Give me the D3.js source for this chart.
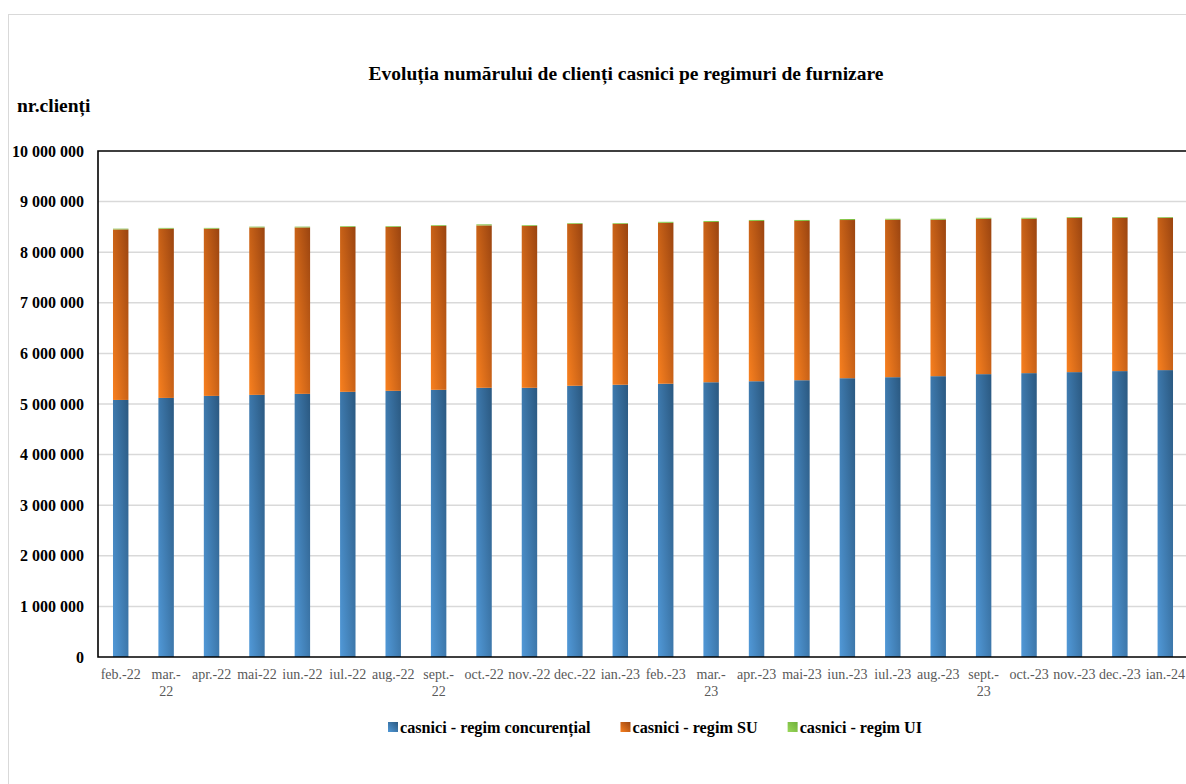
<!DOCTYPE html>
<html>
<head>
<meta charset="utf-8">
<script src="https://cdn.jsdelivr.net/npm/d3@7"></script>
<style>
  html, body { margin: 0; padding: 0; background: #fff; }
  svg { display: block; }
</style>
</head>
<body>
<svg id="chart" width="1186" height="784"></svg>
<script>
const categories = ["feb.-22","mar.-\n22","apr.-22","mai-22","iun.-22","iul.-22","aug.-22","sept.-\n22","oct.-22","nov.-22","dec.-22","ian.-23",
                    "feb.-23","mar.-\n23","apr.-23","mai-23","iun.-23","iul.-23","aug.-23","sept.-\n23","oct.-23","nov.-23","dec.-23","ian.-24"];
const concurential = [5080000,5120000,5160000,5180000,5200000,5240000,5260000,5280000,5320000,5320000,5360000,5380000,
                      5400000,5430000,5450000,5470000,5510000,5530000,5550000,5590000,5610000,5630000,5650000,5670000];
const regimSU = [3370000,3345000,3305000,3310000,3290000,3260000,3240000,3240000,3210000,3200000,3200000,3180000,
                 3180000,3167000,3167000,3147000,3126000,3110000,3090000,3070000,3050000,3050000,3030000,3010000];
const regimUI = [15000,15000,15000,15000,15000,15000,15000,15000,20000,15000,15000,15000,
                 20000,20000,20000,20000,20000,20000,20000,20000,20000,15000,15000,15000];
const yTicks = [0,1000000,2000000,3000000,4000000,5000000,6000000,7000000,8000000,9000000,10000000];
const seriesNames = ["casnici - regim concurențial","casnici - regim SU","casnici - regim UI"];
const titleText = "Evoluția numărului de clienți casnici pe regimuri de furnizare";
const yTitle = "nr.clienți";

const svg = d3.select("#chart");
const serif = "'Liberation Serif','Times New Roman',serif";

// outer chart border
svg.append("rect").attr("x", 8.5).attr("y", 14.5).attr("width", 1200).attr("height", 800)
  .attr("fill", "#fff").attr("stroke", "#d9d9d9").attr("stroke-width", 1);

// gradients
const defs = svg.append("defs");
const grads = [
  {id: "g0", light: "#5199d8", dark: "#2a5880"},
  {id: "g1", light: "#f8801f", dark: "#9a4410"},
  {id: "g2", light: "#9ad85a", dark: "#6fb03a"}
];
grads.forEach(g => {
  const lgr = defs.append("linearGradient").attr("id", g.id)
    .attr("x1", 0).attr("y1", 1).attr("x2", 1).attr("y2", 0);
  lgr.append("stop").attr("offset", "0%").attr("stop-color", g.light);
  lgr.append("stop").attr("offset", "100%").attr("stop-color", g.dark);
});

const pLeft = 98, pRight = 1188, pTop = 151, pBottom = 657;
const x = d3.scaleBand().domain(categories).range([pLeft, pRight]).paddingInner(0.66).paddingOuter(0.33);
const y = d3.scaleLinear().domain([0, 10000000]).range([pBottom, pTop]);

// gridlines
svg.append("g").selectAll("line").data(yTicks.filter(t => t > 0 && t < 10000000)).join("line")
  .attr("x1", pLeft).attr("x2", pRight).attr("y1", d => y(d)).attr("y2", d => y(d))
  .attr("stroke", "#d9d9d9").attr("stroke-width", 1.5);

// stacked data
const data = categories.map((c, i) => ({cat: c, a: concurential[i], b: regimSU[i], c: regimUI[i]}));
const stack = d3.stack().keys(["a","b","c"])(data);
const fills = ["url(#g0)","url(#g1)","url(#g2)"];
stack.forEach((layer, li) => {
  svg.append("g").selectAll("rect").data(layer).join("rect")
    .attr("x", d => x(d.data.cat))
    .attr("width", x.bandwidth())
    .attr("y", d => y(d[1]))
    .attr("height", d => Math.max(0, y(d[0]) - y(d[1])))
    .attr("fill", fills[li]);
});

// plot frame (left, top, bottom)
svg.append("path")
  .attr("d", `M${pRight},${pTop}H${pLeft}V${pBottom}H${pRight}`)
  .attr("fill", "none").attr("stroke", "#000").attr("stroke-width", 1.6);

// y axis labels
const fmt = v => d3.format(",")(v).replace(/,/g, " ");
const yAxis = d3.axisLeft(y).tickValues(yTicks).tickFormat(fmt).tickSize(0).tickPadding(14);
const ya = svg.append("g").attr("transform", `translate(${pLeft},0)`).call(yAxis);
ya.select(".domain").remove();
ya.selectAll("text").attr("font-family", serif).attr("font-weight", "bold")
  .attr("font-size", "16px").attr("fill", "#000");

// x axis labels
const xAxis = d3.axisBottom(x).tickSize(0).tickFormat("");
const xa = svg.append("g").attr("transform", `translate(0,${pBottom})`).call(xAxis);
xa.select(".domain").remove();
xa.selectAll(".tick").each(function(d) {
  const lines = d.split("\n");
  const t = d3.select(this).append("text")
    .attr("font-family", serif).attr("font-size", "14px").attr("fill", "#595959")
    .attr("text-anchor", "middle");
  lines.forEach((ln, k) => {
    t.append("tspan").attr("x", 0).attr("y", 22 + k * 17).text(ln);
  });
});

// title
svg.append("text").attr("x", 626).attr("y", 80).attr("text-anchor", "middle")
  .attr("font-family", serif).attr("font-weight", "bold").attr("font-size", "19.5px")
  .attr("fill", "#000").text(titleText);

// y title
svg.append("text").attr("x", 17).attr("y", 112)
  .attr("font-family", serif).attr("font-weight", "bold").attr("font-size", "19.5px")
  .attr("fill", "#000").text(yTitle);

// legend
const legend = svg.append("g");
let lx = 388;
seriesNames.forEach((name, i) => {
  legend.append("rect").attr("x", lx).attr("y", 722).attr("width", 10).attr("height", 10)
    .attr("fill", fills[i]);
  const t = legend.append("text").attr("x", lx + 12).attr("y", 733)
    .attr("font-family", serif).attr("font-weight", "bold").attr("font-size", "16.2px")
    .attr("fill", "#000").text(name);
  const w = t.node().getComputedTextLength();
  lx = lx + 12 + w + 30;
});
</script>
</body>
</html>
